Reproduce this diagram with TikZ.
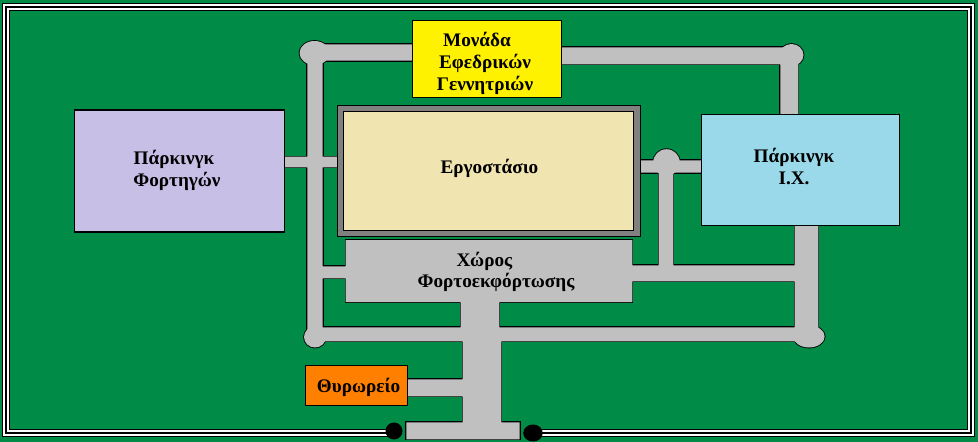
\documentclass[tikz,border=0pt]{standalone}
\usepackage{fontspec}
\setmainfont{Liberation Serif}
\usepackage{xcolor}
\usetikzlibrary{positioning}

\definecolor{grass}{RGB}{0,139,71}
\definecolor{asphalt}{RGB}{192,192,192}
\definecolor{wall}{RGB}{128,128,128}
\definecolor{cream}{RGB}{240,228,176}
\definecolor{lavender}{RGB}{200,191,231}
\definecolor{skyblue}{RGB}{153,217,234}
\definecolor{guardorange}{RGB}{255,128,0}

% road pieces, px of the plan
\def\roadrects{
  (314,44.3) rectangle (412,60.7)
  (561,47.3) rectangle (790,64.3)
  (307.3,53) rectangle (322.7,336)
  (780.3,55) rectangle (798.3,115)
  (284,156.7) rectangle (338,167.3)
  (640,160.3) rectangle (702,172.7)
  (658.5,165) rectangle (673.3,272)
  (345.5,240) rectangle (632.4,302.2)
  (315,266.3) rectangle (346,278.3)
  (632,265.3) rectangle (800,281.3)
  (794.7,225) rectangle (818.3,336)
  (315,327.3) rectangle (808,341.3)
  (460.7,302) rectangle (499.3,328)
  (462.7,341) rectangle (501.3,423)
  (406.3,422.3) rectangle (519.7,439.3)
  (407,379.3) rectangle (463,396.3)
}
\def\roadrounds{
  (314.5,53) ellipse [x radius=15,y radius=12]
  (791.5,55) ellipse [x radius=12,y radius=11]
  (666.5,162.5) ellipse [x radius=13.3,y radius=13.3]
  (315,337) ellipse [x radius=11,y radius=10.5]
  (809,336.5) ellipse [x radius=15.7,y radius=11]
}
\def\fencepath{(394,432.7) -- (6,432.7) -- (6,7) -- (971,7) -- (971,432.7) -- (533,432.7)}

\begin{document}
\begin{tikzpicture}[
  x=1pt,y=-1pt,
  font=\fontsize{19.2}{21.8}\selectfont\bfseries,
  box/.style={draw,line width=1.1pt,inner sep=0pt,outer sep=0pt},
  lbl/.style={align=center,inner sep=0pt},
  gatepost/.style={fill=black,circle,inner sep=0pt,minimum size=17pt}
]
\useasboundingbox (0,0) rectangle (978,442);
\fill[grass] (0,0) rectangle (978,442);

% fence, three passes
\draw[line width=8.4pt,black] \fencepath;
\draw[line width=6.4pt,white] \fencepath;
\draw[line width=2.4pt,black] \fencepath;
\node[gatepost] (postl) at (394,431) {};
\node[gatepost,xscale=1.15] (postr) at (533,433) {};

% roads: outline first, then fill over it
\draw[line width=1.7pt,black] \roadrects;
\draw[line width=1.7pt,black] \roadrounds;
\fill[asphalt] \roadrects;
\fill[asphalt] \roadrounds;

\node[box,fill=yellow,minimum width=149pt,minimum height=77pt] (gens) at (487.2,58.8) {};
\node[box,fill=lavender,minimum width=210.5pt,minimum height=122pt] (trucks) at (179.3,171) {};
\node[box,fill=skyblue,minimum width=198pt,minimum height=111pt] (cars) at (800.3,169.9) {};
\node[box,fill=wall,minimum width=303.4pt,minimum height=131.6pt] (plantwall) at (489,171) {};
\node[box,fill=cream,minimum width=290.4pt,minimum height=119.4pt] (plant) at (488.5,171) {};
\node[box,fill=guardorange,minimum width=102.4pt,minimum height=40pt] (guard) at (356.5,385.3) {};

\node[lbl] (genstxt) at (485,63.5) {\hspace*{-16pt}Μονάδα\\Εφεδρικών\\Γεννητριών};
\node[lbl] (truckstxt) at (177,170.5) {\hspace*{-6pt}Πάρκινγκ\\Φορτηγών};
\node[lbl] (carstxt) at (794,166.5) {Πάρκινγκ\\Ι.Χ.};
\node[lbl] (planttxt) at (489.5,168) {Εργοστάσιο};
\node[lbl] (docktxt) at (496,272) {\hspace*{-23pt}Χώρος\\Φορτοεκφόρτωσης};
\node[lbl] (guardtxt) at (358.5,387.5) {Θυρωρείο};
\end{tikzpicture}
\end{document}
